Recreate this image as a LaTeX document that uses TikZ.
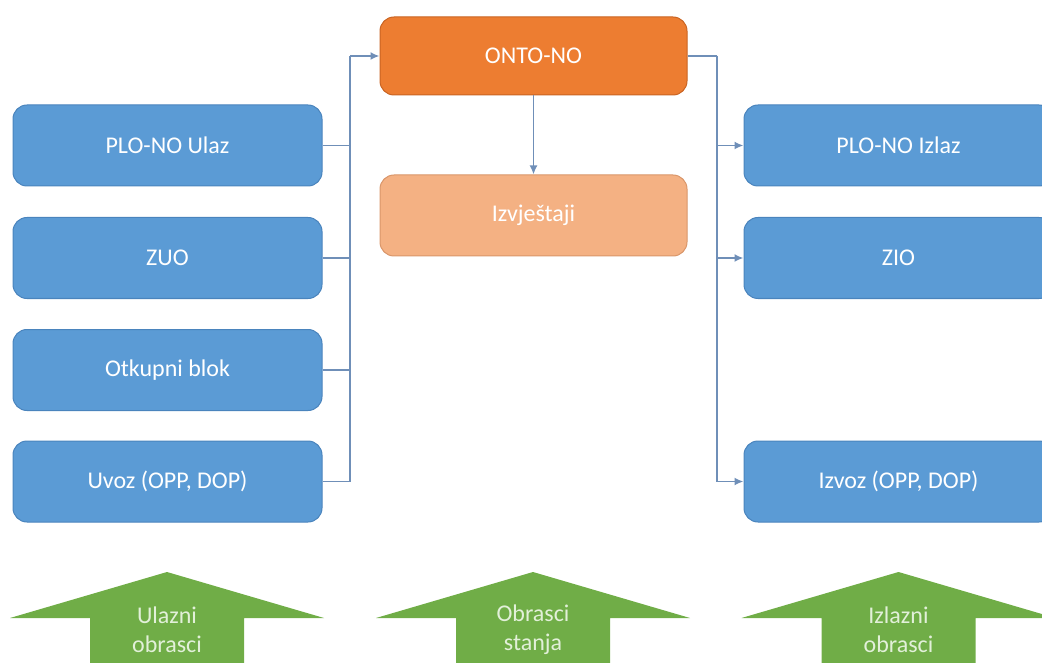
\documentclass[tikz,border=0pt]{standalone}
\usepackage{fontspec}
\setmainfont{Carlito}
\usetikzlibrary{arrows.meta}
\definecolor{boxblue}{HTML}{5B9BD5}
\definecolor{boxedge}{HTML}{4A84BD}
\definecolor{ontoorange}{HTML}{ED7D31}
\definecolor{ontoedge}{HTML}{C96422}
\definecolor{izvjorange}{HTML}{F4B183}
\definecolor{izvjedge}{HTML}{D9966A}
\definecolor{linkblue}{HTML}{6F8FB8}
\definecolor{arrowgreen}{HTML}{70AD47}
\definecolor{arrowtext}{HTML}{E2F0D9}

\begin{document}
\begin{tikzpicture}[x=1pt,y=-1pt,
  box/.style={draw=boxedge,fill=boxblue,line width=1pt,rounded corners=14pt,
    minimum width=309pt,minimum height=81pt,text=white,
    font=\fontsize{24}{28}\selectfont},
  link/.style={draw=linkblue,line width=1.8pt},
  tip/.style={-{Latex[length=9pt,width=8pt]}},
  uptext/.style={text=arrowtext,align=center,font=\fontsize{24}{29}\selectfont}]
\useasboundingbox (0,0) rectangle (1042,663);
\clip (0,0) rectangle (1042,663);

% left column
\node[box] (ploul) at (167.5,145.5) {PLO-NO Ulaz};
\node[box] (zuo) at (167.5,258) {ZUO};
\node[box] (otkup) at (167.5,370) {Otkupni blok};
\node[box] (uvoz) at (167.5,481.5) {Uvoz (OPP, DOP)};

% middle column
\node[box,fill=ontoorange,draw=ontoedge,minimum width=307pt,minimum height=78pt] (onto) at (533.5,56) {ONTO-NO};
\node[box,fill=izvjorange,draw=izvjedge,minimum width=307pt] (izvj) at (533.5,215.5) {Izvještaji};

% right column
\node[box] (ploiz) at (898.5,145.5) {PLO-NO Izlaz};
\node[box] (zio) at (898.5,258) {ZIO};
\node[box] (izvoz) at (898.5,481.5) {Izvoz (OPP, DOP)};

\coordinate (lbus) at (350,56);
\coordinate (rbus) at (717,56);

\draw[link] (ploul.east) -| (lbus);
\draw[link] (zuo.east) -| (lbus);
\draw[link] (otkup.east) -| (lbus);
\draw[link] (uvoz.east) -| (lbus);
\draw[link,tip] (lbus) -- (onto.west);

\draw[link] (onto.east) -- (rbus);
\draw[link,tip] (rbus) |- (ploiz.west);
\draw[link,tip] (rbus) |- (zio.west);
\draw[link,tip] (rbus) |- (izvoz.west);
\draw[link,tip] (onto.south) -- (izvj.north);

% green arrows
\foreach \cx/\nm/\txt in {167/ulazni/{Ulazni\\obrasci},533/stanja/{Obrasci\\stanja},898.5/izlazni/{Izlazni\\obrasci}}{
  \fill[arrowgreen] (\cx-157,618) -- (\cx,572) -- (\cx+157,618) -- (\cx+77,618)
    -- (\cx+77,680) -- (\cx-77,680) -- (\cx-77,618) -- cycle;
  \node[uptext] (\nm) at (\cx,630) {\txt};
}
\end{tikzpicture}
\end{document}
